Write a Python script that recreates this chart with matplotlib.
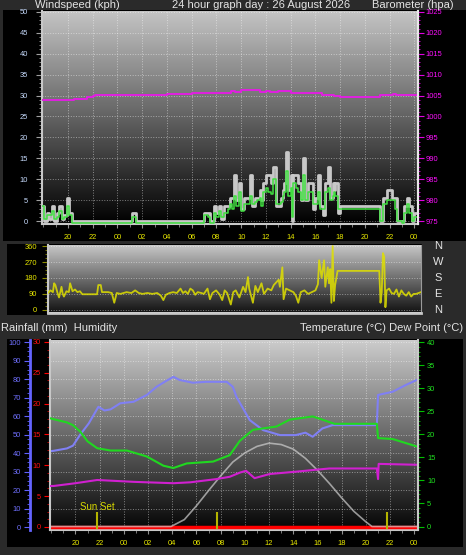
"""Weather station 24 hour graph — windspeed/barometer, wind direction, temp/humidity."""

import matplotlib

matplotlib.use("Agg")
import matplotlib.pyplot as plt
import matplotlib.ticker as mticker
import numpy as np
from matplotlib.colors import LinearSegmentedColormap
from matplotlib.patches import Rectangle

# ── data (hours relative to midnight of the graph day) ───────────────
WIND_H = [
    -6.1, -5.9, -5.7, -5.5, -5.3, -5.1, -4.9, -4.7, -4.5, -4.3,
    -4.1, -3.9, -3.7, 1.2, 1.5, 7.0, 7.3, 7.5, 7.8, 8.0,
    8.2, 8.4, 8.6, 8.9, 9.1, 9.3, 9.4, 9.6, 9.8, 10.0,
    10.2, 10.5, 10.7, 10.9, 11.1, 11.3, 11.5, 11.6, 11.8, 12.0,
    12.2, 12.4, 12.6, 12.8, 13.0, 13.2, 13.4, 13.5, 13.6, 13.8,
    14.0, 14.1, 14.2, 14.4, 14.6, 14.8, 15.0, 15.2, 15.4, 15.6,
    15.8, 16.0, 16.2, 16.4, 16.6, 16.8, 17.0, 17.2, 17.4, 17.5,
    17.6, 17.8, 18.0, 21.0, 21.2, 21.5, 21.8, 22.0, 22.2, 22.4,
    22.6, 23.0, 23.2, 23.4, 23.6, 23.8, 24.0, 24.3,
]
WIND_GUST = [
    3.5, 0, 2, 0.5, 3.5, 0, 2, 3.5, 0.5, 1.5,
    5.5, 2, 0, 2, 0, 2, 2, 0, 3.5, 2,
    3.5, 0.5, 3.5, 3.5, 5.5, 5.5, 11, 5, 9, 3,
    5.5, 5.5, 11, 3.5, 5.5, 5.5, 7.5, 5, 9, 11,
    11, 9, 13, 3.5, 3.5, 5.5, 7.5, 9, 16.5, 7.5,
    11, 0, 11, 11, 9, 5, 15, 5, 9, 9,
    3, 5.5, 11, 3.5, 1.5, 9, 13, 5.5, 9, 7.5,
    9, 2, 3.5, 3.5, 0, 5.5, 7.5, 7.5, 5.5, 5.5,
    0, 0, 3.5, 5.5, 3.5, 0, 2, 2,
]
WIND_AVG = [
    3.5, 0.5, 1.5, 1.5, 2.5, 0.5, 1, 2.5, 0.5, 1,
    3.5, 1.5, -0.5, 1, -0.5, 1.5, 1, -0.5, 2, 1,
    2.5, 1, 2, 3, 4, 3, 6, 3.5, 7, 2.5,
    4, 4, 6, 4, 4.5, 5, 5.5, 3.5, 7, 8,
    7, 6.5, 10, 4, 4, 4.5, 6, 7, 12, 6,
    8, 1, 9, 8, 7, 5, 11, 5, 7, 7,
    4, 4, 7, 3, 3, 7, 8, 5, 6, 7,
    6, 3, 3, 3, 0, 4, 5, 5, 5, 3,
    0, -0.5, 2, 4, 2, 0, 1, 1.5,
]

BARO_H = [
    -6.1, -4.0, -3.5, -3.0, -2.5, -2.0, -1.8, 3.0, 4.0, 6.0,
    8.9, 9.2, 9.5, 10.0, 11.0, 11.5, 12.0, 12.3, 13.0, 13.5,
    14.0, 15.0, 16.0, 16.5, 17.5, 18.0, 20.9, 21.2, 22.3, 22.5,
    24.0, 24.3,
]
BARO = [
    1003.9, 1003.9, 1004.2, 1004.2, 1004.6, 1004.9, 1005.1, 1005.2, 1005.4, 1005.5,
    1005.6, 1006.2, 1005.9, 1006.3, 1006.3, 1005.9, 1006.1, 1005.8, 1006.0, 1006.2,
    1005.7, 1005.7, 1005.5, 1005.2, 1005.0, 1004.7, 1004.7, 1005.2, 1005.3, 1005.1,
    1005.1, 1004.6,
]

DIR_H = [
    -6.1, -5.9, -5.7, -5.6, -5.5, -5.3, -5.2, -5.0, -4.9, -4.8,
    -4.6, -4.4, -4.3, -4.1, -3.9, -3.7, -3.5, -3.3, -2.1, -2.0,
    -1.8, -1.7, -1.2, -0.9, -0.7, -0.5, -0.2, 0.3, 0.7, 1.0,
    1.3, 1.6, 2.0, 2.4, 2.8, 3.1, 3.3, 3.5, 3.8, 4.1,
    4.4, 4.7, 4.9, 5.1, 5.3, 5.5, 5.7, 5.9, 6.1, 6.4,
    6.6, 6.9, 7.1, 7.3, 7.6, 7.9, 8.1, 8.3, 8.5, 8.8,
    9.0, 9.2, 9.5, 9.8, 10.0, 10.2, 10.3, 10.6, 10.8, 11.0,
    11.3, 11.5, 11.8, 12.1, 12.3, 12.5, 12.7, 12.8, 13.0, 13.1,
    13.3, 13.6, 13.9, 14.1, 14.3, 14.5, 14.8, 15.1, 15.4, 15.7,
    15.9, 16.0, 16.2, 16.4, 16.5, 16.7, 16.8, 16.9, 17.0, 17.1,
    17.2, 17.3, 17.5, 20.9, 21.0, 21.1, 21.2, 21.3, 21.4, 21.5,
    21.7, 21.9, 22.1, 22.3, 22.5, 22.7, 22.9, 23.1, 23.3, 23.5,
    23.7, 23.9, 24.3,
]
DIR = [
    95, 110, 100, 150, 140, 90, 70, 130, 90, 75,
    105, 100, 150, 105, 115, 100, 105, 88, 88, 140,
    140, 100, 100, 95, 40, 95, 90, 100, 95, 110,
    95, 90, 95, 90, 95, 80, 55, 85, 95, 100,
    95, 120, 95, 105, 90, 120, 110, 85, 100, 95,
    90, 120, 60, 95, 110, 85, 55, 110, 95, 30,
    100, 110, 70, 130, 100, 185, 120, 40, 135, 100,
    150, 90, 120, 110, 140, 155, 170, 130, 240, 60,
    120, 110, 100, 80, 40, 100, 110, 90, 100, 110,
    145, 280, 180, 280, 130, 240, 150, 230, 40, 360,
    50, 140, 220, 220, 40, 100, 320, 300, 15, 110,
    120, 95, 90, 115, 75, 110, 90, 80, 100, 75,
    90, 90, 100,
]
COMPASS = ["N", "W", "S", "E", "N"]
COMPASS_DEG = [360, 270, 180, 90, 0]

HUM_H = [
    -6.1, -5.8, -4.7, -4.2, -3.6, -2.9, -2.1, -1.6, -1.1, -0.3,
    0.8, 1.9, 2.7, 3.5, 4.1, 4.6, 5.7, 6.8, 8.5, 9.0,
    9.3, 10.4, 11.5, 12.9, 14.2, 15.0, 15.6, 16.4, 17.25, 20.9,
    21.0, 22.2, 23.3, 24.3,
]
HUM = [
    41, 41.2, 42.5, 44, 50, 56, 65, 63, 63.6, 66.9,
    67.7, 71.4, 75.8, 79, 81.2, 79.5, 78, 78.5, 78.5, 75.8,
    70.4, 57.8, 52.4, 49.7, 49.7, 51, 48.8, 53.3, 55.1, 55.1,
    71.4, 73.1, 76.8, 79.8,
]

TEMP_H = [
    -6.1, -5.8, -4.7, -4.2, -3.6, -3.0, -2.2, -1.1, 0.25, 1.9,
    3.27, 4.09, 5.2, 7.38, 8.75, 9.58, 10.67, 11.5, 12.6, 13.7,
    15.6, 16.4, 17.4, 20.9, 21.0, 22.2, 24.3,
]
TEMP = [
    23.5, 23.3, 22.6, 22.0, 20.6, 18.5, 17.0, 16.5, 16.5, 15.2,
    13.2, 12.7, 13.7, 14.1, 15.5, 18.6, 21.0, 21.3, 21.7, 23.2,
    23.9, 23.2, 22.3, 22.3, 19.2, 19.0, 17.3,
]

DEW_H = [
    -6.1, -5.8, -4.0, -2.2, 0.8, 4.1, 5.5, 7.66, 8.75, 9.58,
    10.1, 10.8, 12.05, 14.2, 16.16, 16.98, 20.9, 21.0, 21.05, 24.3,
]
DEW = [
    8.8, 8.8, 9.4, 10.1, 9.7, 9.4, 9.6, 10.3, 10.8, 11.7,
    12.1, 10.5, 11.4, 11.9, 12.4, 12.6, 12.6, 10.3, 13.6, 13.4,
]

SUN_H = [-6.1, 3.9, 5.0, 6.0, 7.0, 8.0, 9.0, 10.0, 11.0, 12.0,
         13.0, 14.0, 15.0, 16.0, 17.0, 18.0, 19.0, 20.0, 20.5, 24.3]
SUN = [0, 0, 1.5, 4.5, 7.8, 11, 14, 16, 17.4, 18.1,
       17.8, 16.8, 14.8, 12.2, 9.3, 6.2, 3.3, 1.0, 0, 0]

RAIN_H = [-6.1, 24.3]
RAIN = [0, 0]

SUN_EVENTS_H = [-2.2, 7.7, 21.7]
SUNSET_H = -2.2

XT = list(range(-4, 25, 2))
XT_LABELS = [f"{h % 24:02d}" for h in XT]
XLIM = (-6.1, 24.3)

# ── style ────────────────────────────────────────────────────────────
plt.rcParams.update({"font.family": ["Liberation Sans", "DejaVu Sans"]})

W, H = 466, 555
BG = "#2a2a2a"
TXT = "#e4e4e4"
YEL = "#e8e800"
SPINE = "#c8c8c8"

fig = plt.figure(figsize=(W / 100, H / 100), dpi=100, facecolor=BG)


def px_rect(x0, y0, x1, y1):
    return [x0 / W, 1 - y1 / H, (x1 - x0) / W, (y1 - y0) / H]


def black_box(x0, y0, x1, y1):
    fig.add_artist(
        Rectangle((x0 / W, 1 - y1 / H), (x1 - x0) / W, (y1 - y0) / H,
                  transform=fig.transFigure, facecolor="black",
                  edgecolor="none", zorder=-10)
    )


def gradient(ax, top, bottom):
    cmap = LinearSegmentedColormap.from_list("bg", [bottom, top])
    ax.imshow(np.linspace(0, 1, 256).reshape(-1, 1), extent=[0, 1, 0, 1],
              transform=ax.transAxes, origin="lower", aspect="auto",
              cmap=cmap, zorder=0)


def x_axis(ax):
    ax.set_xlim(*XLIM)
    ax.set_xticks(XT, XT_LABELS)
    ax.xaxis.set_minor_locator(mticker.MultipleLocator(1))
    ax.tick_params(axis="x", which="major", colors="#909090", labelcolor=YEL,
                   labelsize=5.4, length=3, pad=4)
    ax.tick_params(axis="x", which="minor", colors="#909090", length=2)


def grid(ax, axis="both"):
    ax.grid(True, axis=axis, which="major", color="white", linestyle=":",
            linewidth=0.7, alpha=0.45)


# ── panel 1: windspeed + barometer ───────────────────────────────────
black_box(3, 10, 466, 241)
ax1 = fig.add_axes(px_rect(42, 11, 418, 224))
gradient(ax1, "#c4c4c4", "#000000")
x_axis(ax1)
ax1.set_ylim(-0.7, 50.2)
ax1.set_yticks(range(0, 51, 5))
ax1.yaxis.set_minor_locator(mticker.MultipleLocator(1))
ax1.tick_params(axis="y", which="major", colors="#a0a0a0", labelcolor="#c8dcff",
                labelsize=5.4, length=4, pad=6)
ax1.tick_params(axis="y", which="minor", colors="#a0a0a0", length=2)
for side, col in [("left", SPINE), ("bottom", SPINE), ("right", "#e8e8e8")]:
    ax1.spines[side].set_color(col)
    ax1.spines[side].set_linewidth(1.5)
ax1.spines["top"].set_visible(False)
grid(ax1)

ax1.plot(WIND_H, WIND_GUST, drawstyle="steps-post", color="#c8c8c8", lw=2.0, zorder=3)
ax1.plot(WIND_H, WIND_AVG, drawstyle="steps-post", color="#40e040", lw=1.1, zorder=4)

ax1b = ax1.twinx()
ax1b.set_ylim(974.3, 1025.2)
ax1b.set_yticks(range(975, 1026, 5))
ax1b.yaxis.set_minor_locator(mticker.MultipleLocator(1))
ax1b.tick_params(axis="y", which="major", colors="#e000e0", labelcolor="#ff10ff",
                 labelsize=5.4, length=4, pad=1.5)
ax1b.tick_params(axis="y", which="minor", colors="#e000e0", length=1.5)
for side in ["left", "top", "bottom"]:
    ax1b.spines[side].set_visible(False)
ax1b.spines["right"].set_color("#e8e8e8")
ax1b.spines["right"].set_linewidth(1.5)
ax1b.plot(BARO_H, BARO, drawstyle="steps-post", color="#e020e0", lw=1.4)

fig.text(35 / W, 1 - 8.5 / H, "Windspeed (kph)", color=TXT, fontsize=8, va="baseline")
fig.text(172 / W, 1 - 8.5 / H, "24 hour graph day : 26 August 2026", color=TXT,
         fontsize=8, va="baseline")
fig.text(372 / W, 1 - 8.5 / H, "Barometer (hpa)", color=TXT, fontsize=8, va="baseline")

# ── panel 2: wind direction ──────────────────────────────────────────
black_box(7, 244, 422, 315)
ax2 = fig.add_axes(px_rect(48, 245, 421, 312.5))
gradient(ax2, "#cacaca", "#141414")
ax2.set_xlim(*XLIM)
ax2.set_xticks([])
ax2.set_ylim(-15, 366)
ax2.set_yticks([0, 90, 180, 270, 360])
ax2.yaxis.set_minor_locator(mticker.MultipleLocator(22.5))
ax2.tick_params(axis="y", which="major", colors="#8a8a00", labelcolor=YEL,
                labelsize=5.4, length=4, pad=4)
ax2.tick_params(axis="y", which="minor", colors="#8a8a00", length=2)
ax2.spines["left"].set_color(SPINE)
ax2.spines["left"].set_linewidth(1.5)
ax2.spines["bottom"].set_color(SPINE)
ax2.spines["bottom"].set_linewidth(2)
ax2.spines["right"].set_color("#9a9a9a")
ax2.spines["top"].set_visible(False)
grid(ax2, axis="y")
ax2.plot(DIR_H, DIR, color="#e0e000", lw=1.3, alpha=0.85, zorder=3)
for lab, deg in zip(COMPASS, COMPASS_DEG):
    ax2.text(1.0456, deg, lab, transform=ax2.get_yaxis_transform(), color=TXT,
             fontsize=8, ha="center", va="center")

fig.text(1 / W, 1 - 331 / H, "Rainfall (mm)  Humidity", color=TXT, fontsize=8,
         va="baseline")
fig.text(463 / W, 1 - 331 / H, "Temperature (°C) Dew Point (°C)", color=TXT,
         fontsize=8, va="baseline", ha="right")

# ── panel 3: humidity / rain / temperature / dew point ───────────────
black_box(7, 339, 463, 547)
ax3 = fig.add_axes(px_rect(50, 340, 418, 530))
gradient(ax3, "#cccccc", "#050505")
x_axis(ax3)
ax3.set_ylim(-1.6, 101.1)
ax3.set_yticks(range(0, 101, 10))
ax3.yaxis.set_minor_locator(mticker.MultipleLocator(2.5))
ax3.tick_params(axis="y", which="major", colors="#6060ff", labelcolor="#7070ff",
                labelsize=5.4, length=4, pad=2.5)
ax3.tick_params(axis="y", which="minor", colors="#6060ff", length=2)
ax3.spines["left"].set_position(("outward", 14.4))
ax3.spines["left"].set_color("#6464ff")
ax3.spines["left"].set_linewidth(2)
ax3.spines["bottom"].set_color(SPINE)
ax3.spines["bottom"].set_linewidth(1.5)
ax3.spines["top"].set_visible(False)
ax3.spines["right"].set_visible(False)
grid(ax3)
ax3.plot(HUM_H, HUM, color="#8080f4", lw=1.5, zorder=3)

ax_rain = ax3.twinx()
ax_rain.yaxis.tick_left()
ax_rain.set_ylim(-0.49, 30.3)
ax_rain.set_yticks(range(0, 31, 5))
ax_rain.yaxis.set_minor_locator(mticker.MultipleLocator(1.25))
ax_rain.tick_params(axis="y", which="major", colors="#ff0000", labelcolor="#ff1010",
                    labelsize=5.4, length=4, pad=2.5)
ax_rain.tick_params(axis="y", which="minor", colors="#d00000", length=2)
for side in ["right", "top", "bottom"]:
    ax_rain.spines[side].set_visible(False)
ax_rain.spines["left"].set_color(SPINE)
ax_rain.spines["left"].set_linewidth(1.5)
ax_rain.plot(RAIN_H, RAIN, color="#ff0000", lw=2.5)

ax_temp = ax3.twinx()
ax_temp.set_ylim(-0.76, 40.5)
ax_temp.set_yticks(range(0, 41, 5))
ax_temp.yaxis.set_minor_locator(mticker.MultipleLocator(1))
ax_temp.tick_params(axis="y", which="major", colors="#00c000", labelcolor="#20e020",
                    labelsize=5.4, length=4, pad=2.5)
ax_temp.tick_params(axis="y", which="minor", colors="#00c000", length=1.5)
for side in ["left", "top", "bottom"]:
    ax_temp.spines[side].set_visible(False)
ax_temp.spines["right"].set_color(SPINE)
ax_temp.spines["right"].set_linewidth(1.5)
ax_temp.plot(SUN_H, SUN, color="#d0d0d0", lw=1.2, alpha=0.7)
ax_temp.plot(TEMP_H, TEMP, color="#20d820", lw=1.5)
ax_temp.plot(DEW_H, DEW, color="#d020d0", lw=1.5)
ax_temp.vlines(SUN_EVENTS_H, -0.6, 3.2, color="#b4b400", lw=1.5)
ax_temp.text(SUNSET_H, 4.2, "Sun Set", color="#d8d800", fontsize=7,
             ha="center", va="center")

fig.savefig("out.png", dpi=100, facecolor=fig.get_facecolor())
